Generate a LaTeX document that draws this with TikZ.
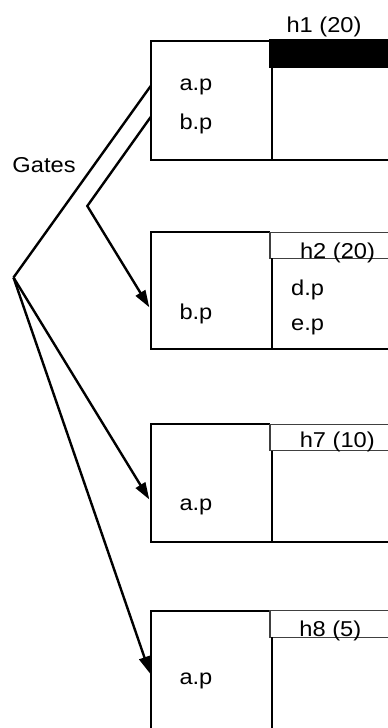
\documentclass[tikz,border=0pt]{standalone}
\usepackage{fontspec}
\setmainfont{Liberation Sans}[FakeStretch=1.1]
\usetikzlibrary{arrows.meta}
\begin{document}
\begin{tikzpicture}[x=1pt,y=-1pt,
  boxline/.style={line width=1.7pt,line join=miter},
  hdrline/.style={line width=1.1pt,black!75},
  divline/.style={line width=2.3pt},
  gateline/.style={line width=2.4pt,line join=miter},
  gatearrow/.style={gateline,-{Triangle[length=17pt,width=11pt]}},
  lbl/.style={inner sep=0pt,font=\fontsize{21.5}{24}\selectfont},
  lblw/.style={lbl,anchor=base west},
  lblc/.style={lbl,anchor=base}]
\useasboundingbox (0,0) rectangle (388,728);
\clip (0,0) rectangle (388,728);
\fill[white] (0,0) rectangle (388,728);

% box 1
\fill[black] (269,39) rectangle (392,68.3);
\draw[boxline] (269.5,40.7) -- (150.7,40.7) -- (150.7,160) -- (392,160);
\draw[divline] (272,68) -- (272,160);
\node[lblc] (h1) at (324,32.3) {h1 (20)};
\node[lblw] (ap1) at (179.3,90) {a.p};
\node[lblw] (bp1) at (179.3,129) {b.p};

% box 2
\draw[boxline] (270,232.3) -- (150.7,232.3) -- (150.7,349) -- (392,349);
\draw[hdrline] (270,232.3) rectangle (392,258.3);
\draw[divline] (272,258.3) -- (272,349);
\node[lblc] (h2) at (337.5,258.3) {h2 (20)};
\node[lblw] (dp2) at (291,295) {d.p};
\node[lblw] (ep2) at (291,330) {e.p};
\node[lblw] (bp2) at (179.3,319) {b.p};

% box 3
\draw[boxline] (270,424.3) -- (150.7,424.3) -- (150.7,541.7) -- (392,541.7);
\draw[hdrline] (270,424.3) rectangle (392,450.7);
\draw[divline] (272,450.7) -- (272,541.7);
\node[lblc] (h7) at (337.3,447.3) {h7 (10)};
\node[lblw] (ap3) at (179.3,510.7) {a.p};

% box 4
\draw[boxline] (270,610.7) -- (150.7,610.7) -- (150.7,740);
\draw[hdrline] (270,610.7) rectangle (392,637.3);
\draw[divline] (272,637.3) -- (272,740);
\node[lblc] (h8) at (330.3,636) {h8 (5)};
\node[lblw] (ap4) at (179.3,684.3) {a.p};

% gates
\node[lblw] (gates) at (12.3,172.7) {Gates};
\coordinate (g) at (13.5,277.5);
\coordinate (s1) at (150.7,86);
\coordinate (s2) at (150.7,117);
\coordinate (k) at (87.3,206);
\coordinate (t2) at (149.3,307.3);
\coordinate (t3) at (149.3,499.5);
\coordinate (t4) at (150,673.5);
\draw[gateline] (s1) -- (g);
\draw[gatearrow] (g) -- (t3);
\draw[gatearrow] (g) -- (t4);
\draw[gatearrow] (s2) -- (k) -- (t2);
\end{tikzpicture}
\end{document}
